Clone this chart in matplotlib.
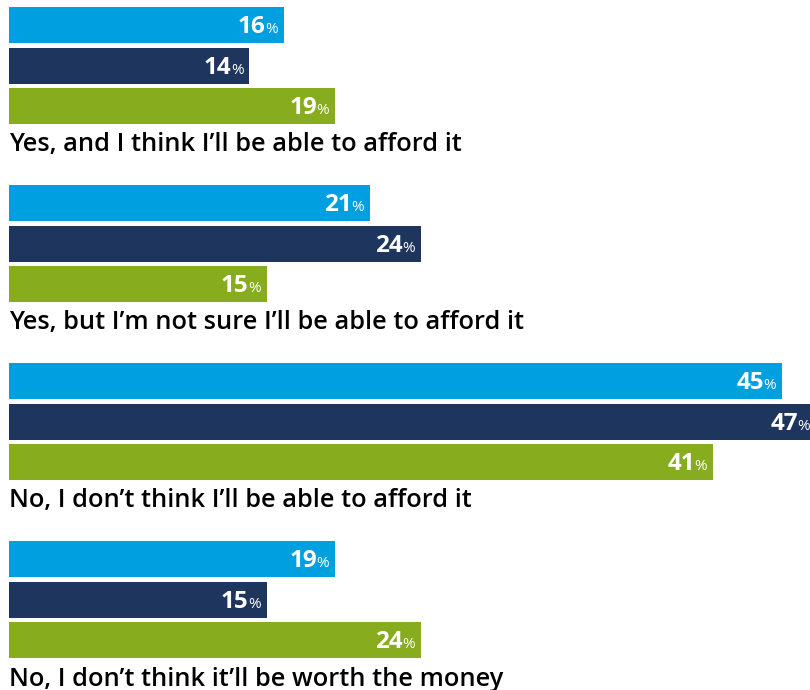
import matplotlib
matplotlib.use('Agg')
from matplotlib import pyplot as plt

# Answers, top to bottom
answers = [
    "Yes, and I think I\u2019ll be able to afford it",
    "Yes, but I\u2019m not sure I\u2019ll be able to afford it",
    "No, I don\u2019t think I\u2019ll be able to afford it",
    "No, I don\u2019t think it\u2019ll be worth the money",
]
# three series per answer (light blue, navy, green)
serie_azul = [16, 21, 45, 19]
serie_marinho = [14, 24, 47, 15]
serie_verde = [19, 15, 41, 24]

cores = ['#009fe0', '#1e355e', '#87ac1e']
series = [serie_azul, serie_marinho, serie_verde]

plt.rcParams['font.family'] = ['Open Sans', 'DejaVu Sans']

fig = plt.figure(figsize=(8.1, 6.9), dpi=100)
ax = fig.add_axes([0, 0, 1, 1])

# layout in pixels: x scale 17.17 px per percent, bars start at x=9
px_por_pct = 17.17
ax.set_xlim(-9 / px_por_pct, (810 - 9) / px_por_pct)
ax.set_ylim(690, 0)
ax.axis('off')

topo_grupo = 7
passo_grupo = 178
passo_barra = 40.5
altura_barra = 36

for g, resposta in enumerate(answers):
    topo = topo_grupo + g * passo_grupo
    for s, valores in enumerate(series):
        centro = topo + s * passo_barra + altura_barra / 2
        v = valores[g]
        ax.barh(centro, v, height=altura_barra, color=cores[s], left=0)
        # small percent sign, then the number to its left
        ax.annotate('%', (v, centro + 8), xytext=(-6, 0), textcoords='offset pixels',
                    ha='right', va='baseline', color='white', fontsize=11,
                    fontweight='normal', annotation_clip=False)
        ax.annotate(str(v), (v, centro + 8), xytext=(-18, 0), textcoords='offset pixels',
                    ha='right', va='baseline', color='white', fontsize=17.5,
                    fontweight='bold', annotation_clip=False)
    ax.text(0, topo + 3 * passo_barra + 23, resposta, ha='left', va='baseline',
            fontsize=18.3, fontweight='semibold', color='black')

fig.savefig('out.png', dpi=100)
